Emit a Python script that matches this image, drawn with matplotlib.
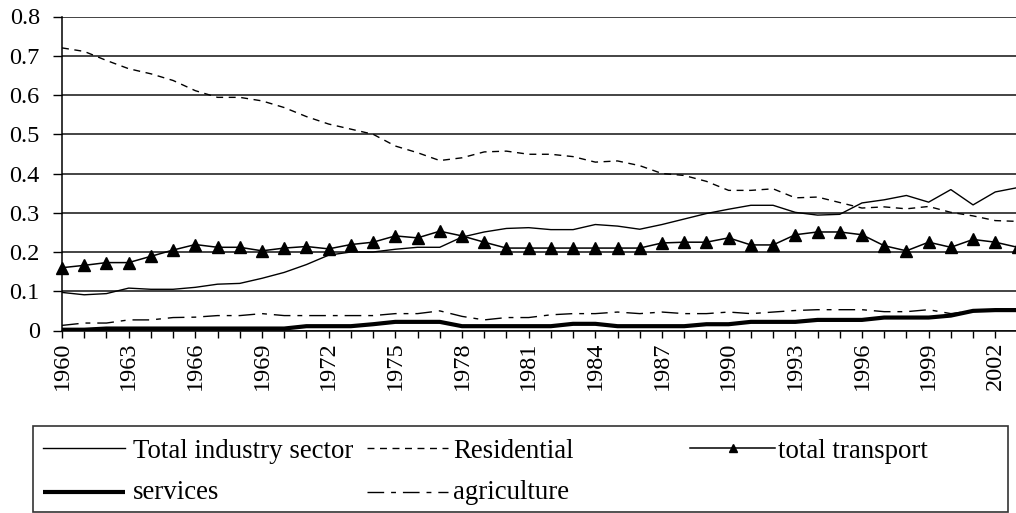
import matplotlib
matplotlib.use("Agg")
import matplotlib.pyplot as plt
import numpy as np
from matplotlib.lines import Line2D
from matplotlib.patches import Rectangle
from matplotlib.ticker import MultipleLocator, FixedLocator, FixedFormatter

plt.rcParams['font.family'] = ['Liberation Serif', 'DejaVu Serif']

years = list(range(1960, 2004))

industry = [0.097, 0.091, 0.094, 0.108, 0.105, 0.105, 0.110, 0.118, 0.120, 0.133,
            0.148, 0.168, 0.192, 0.200, 0.200, 0.207, 0.212, 0.212, 0.238, 0.251,
            0.260, 0.262, 0.257, 0.257, 0.270, 0.266, 0.258, 0.270, 0.284, 0.298,
            0.309, 0.319, 0.319, 0.301, 0.294, 0.296, 0.325, 0.333, 0.344, 0.327,
            0.359, 0.320, 0.353, 0.364]

residential = [0.720, 0.711, 0.688, 0.667, 0.654, 0.637, 0.611, 0.594, 0.594, 0.585,
               0.568, 0.545, 0.526, 0.513, 0.500, 0.470, 0.453, 0.433, 0.440, 0.455,
               0.457, 0.449, 0.449, 0.443, 0.429, 0.432, 0.420, 0.400, 0.395, 0.380,
               0.357, 0.357, 0.361, 0.338, 0.340, 0.326, 0.312, 0.315, 0.310, 0.316,
               0.301, 0.292, 0.280, 0.278]

transport = [0.160, 0.166, 0.173, 0.173, 0.189, 0.205, 0.219, 0.212, 0.212, 0.203,
             0.210, 0.214, 0.208, 0.219, 0.225, 0.241, 0.236, 0.253, 0.241, 0.225,
             0.210, 0.210, 0.210, 0.210, 0.210, 0.210, 0.210, 0.223, 0.225, 0.225,
             0.236, 0.218, 0.218, 0.244, 0.251, 0.251, 0.244, 0.216, 0.203, 0.225,
             0.212, 0.232, 0.225, 0.212]

services = [0.002, 0.002, 0.005, 0.005, 0.005, 0.005, 0.005, 0.005, 0.005, 0.005,
            0.005, 0.011, 0.011, 0.011, 0.016, 0.022, 0.022, 0.022, 0.011, 0.011,
            0.011, 0.011, 0.011, 0.017, 0.017, 0.011, 0.011, 0.011, 0.011, 0.016,
            0.016, 0.022, 0.022, 0.022, 0.027, 0.027, 0.027, 0.033, 0.033, 0.033,
            0.038, 0.050, 0.052, 0.052]

agriculture = [0.013, 0.019, 0.019, 0.027, 0.027, 0.033, 0.034, 0.038, 0.038, 0.043,
               0.038, 0.038, 0.038, 0.038, 0.038, 0.043, 0.043, 0.050, 0.036, 0.027,
               0.033, 0.033, 0.040, 0.043, 0.043, 0.047, 0.043, 0.047, 0.043, 0.043,
               0.047, 0.043, 0.047, 0.051, 0.053, 0.053, 0.053, 0.048, 0.048, 0.053,
               0.043, 0.050, 0.052, 0.052]

labels = ["Total industry sector", "Residential", "total transport", "services", "agriculture"]
ytick_vals = [0, 0.1, 0.2, 0.3, 0.4, 0.5, 0.6, 0.7, 0.8]
ytick_labels = ["0", "0.1", "0.2", "0.3", "0.4", "0.5", "0.6", "0.7", "0.8"]
xtick_years = list(range(1960, 2003, 3))

W, H = 1016, 513
fig = plt.figure(figsize=(W / 100, H / 100), dpi=100)
fig.patch.set_facecolor("white")

x0, x1 = 62, 1017.5
y_top, y_bot = 16.5, 330.5
ax = fig.add_axes([x0 / W, 1 - y_bot / H, (x1 - x0) / W, (y_bot - y_top) / H])
ax.set_facecolor("white")

styles = {
    "industry": dict(color="black", lw=1.0, ls="-"),
    "residential": dict(color="black", lw=1.0, ls=(0, (5, 4))),
    "transport": dict(color="black", lw=1.1, ls="-", marker="^", ms=8, mfc="black", mec="black"),
    "services": dict(color="black", lw=3.0, ls="-", solid_capstyle="butt"),
    "agriculture": dict(color="black", lw=1.0, ls=(0, (12, 5, 3.5, 5))),
}

ax.plot(years, industry, zorder=4, **styles["industry"])
ax.plot(years, residential, zorder=4, **styles["residential"])
ax.plot(years, transport, zorder=5, clip_on=False, **styles["transport"])
ax.plot(years, services, zorder=4, **styles["services"])
ax.plot(years, agriculture, zorder=4, **styles["agriculture"])

ax.set_xlim(1960, 2003)
ax.set_ylim(0, 0.8)

ax.yaxis.set_major_locator(FixedLocator(ytick_vals))
ax.yaxis.set_major_formatter(FixedFormatter(ytick_labels))
ax.xaxis.set_major_locator(FixedLocator(xtick_years))
ax.xaxis.set_minor_locator(MultipleLocator(1))
ax.set_xticklabels([str(y) for y in xtick_years], rotation=90)

ax.grid(axis="y", color="#111111", lw=1.1, zorder=1)
ax.set_axisbelow(True)

for s in ["top", "right"]:
    ax.spines[s].set_visible(False)
for s in ["left", "bottom"]:
    ax.spines[s].set_color("black")
    ax.spines[s].set_linewidth(1.1)
    ax.spines[s].set_zorder(6)

ax.tick_params(axis="y", direction="out", length=6.5, width=1.0, labelsize=17.5, pad=9.5, colors="black")
ax.tick_params(axis="x", which="both", direction="out", length=5, width=1.0, labelsize=17.5, pad=3, colors="black")

# legend drawn in pixel coordinates on an overlay
lax = fig.add_axes([0, 0, 1, 1], facecolor="none")
lax.set_xlim(0, W)
lax.set_ylim(H, 0)
lax.axis("off")

lax.add_patch(Rectangle((33, 426), 1008 - 33, 512 - 426, fill=False, ec="#333333", lw=1.2))

rows = [448, 492]
baselines = [457.5, 499]
entries = [
    ("industry", 43, 125, 133, 0),
    ("residential", 367, 448, 453, 0),
    ("transport", 690, 775, 778, 0),
    ("services", 43, 125, 133, 1),
    ("agriculture", 367, 448, 453, 1),
]
for (key, hx0, hx1, tx, r), lab in zip(entries, labels):
    st = dict(styles[key])
    if key == "transport":
        base = {k: v for k, v in st.items() if k not in ("marker", "ms", "mfc", "mec")}
        lax.add_line(Line2D([hx0, hx1], [rows[r], rows[r]], **base))
        lax.add_line(Line2D([(hx0 + hx1) / 2], [rows[r]], marker="^", ms=6, color="black", ls="none"))
    else:
        lax.add_line(Line2D([hx0, hx1], [rows[r], rows[r]], **st))
    lax.text(tx, baselines[r], lab, fontsize=19.4, va="baseline", ha="left", color="black")

fig.savefig("out.png", dpi=100, facecolor="white")
